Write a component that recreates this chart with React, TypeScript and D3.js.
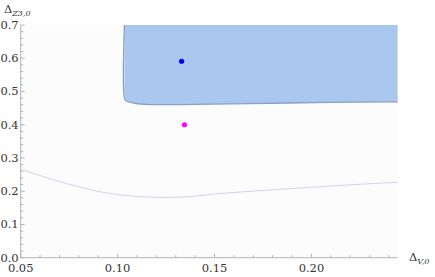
import * as React from 'react'
import * as d3 from 'd3'

// boundary of the shaded (allowed) region
const regionX = [0.1035, 0.1035, 0.1043, 0.1089, 0.1166, 0.1321, 0.1682, 0.2094, 0.2445]
const regionY = [0.7, 0.48, 0.472, 0.4646, 0.4607, 0.4607, 0.4637, 0.467, 0.469]

// thin bound curve
const curveX = [0.05, 0.065, 0.082, 0.096, 0.108, 0.1235, 0.1355, 0.151, 0.177, 0.2025, 0.2285, 0.2445]
const curveY = [0.266, 0.238, 0.21, 0.193, 0.185, 0.181, 0.183, 0.192, 0.203, 0.213, 0.222, 0.227]

const points = [
  { x: 0.133, y: 0.591, color: '#0000ff' },
  { x: 0.1345, y: 0.4, color: '#ff00ff' },
]

const xMajor = [0.05, 0.1, 0.15, 0.2]
const yMajor = [0, 0.1, 0.2, 0.3, 0.4, 0.5, 0.6, 0.7]

const W = 435
const H = 277
const left = 20.7
const right = 397.7
const top = 25
const bottom = 257.7

export default function App() {
  const x = d3.scaleLinear().domain([0.05, 0.2445]).range([left, right])
  const y = d3.scaleLinear().domain([0, 0.7]).range([bottom, top])

  const xMinor = d3.range(5, 25).map((d) => d / 100)
  const yMinor = d3.range(0, 36).map((d) => d / 50)

  const bnd = regionX.map((v, i) => [v, regionY[i]] as [number, number])
  const fillPts: [number, number][] = [...bnd, [0.2445, 0.7]]
  const curvePts = curveX.map((v, i) => [v, curveY[i]] as [number, number])
  const line = () =>
    d3
      .line<[number, number]>()
      .x((d) => x(d[0]))
      .y((d) => y(d[1]))

  const axisColor = '#b3b3b3'
  const txt = { fontFamily: "'DejaVu Serif', 'Liberation Serif', serif", fill: '#333' }

  return (
    <svg width={W} height={H} style={{ position: 'absolute', left: 0, top: 0 }}>
      <rect x={0} y={0} width={W} height={H} fill="#fff" />
      <rect x={left} y={top} width={right - left} height={bottom - top} fill="#fcfcfc" />

      <path d={line()(fillPts) + 'Z'} fill="#aac7ef" stroke="none" />
      <path d={line().curve(d3.curveCatmullRom)(bnd) || ''} fill="none" stroke="#8aa1c7" strokeWidth={1.3} />
      <path d={line().curve(d3.curveMonotoneX)(curvePts) || ''} fill="none" stroke="#cdd7ea" strokeWidth={1} />

      {points.map((p, i) => (
        <circle key={i} cx={x(p.x)} cy={y(p.y)} r={2.6} fill={p.color} />
      ))}

      {/* axes */}
      <line x1={left} x2={left} y1={top} y2={bottom} stroke={axisColor} />
      <line x1={left} x2={right} y1={bottom} y2={bottom} stroke={axisColor} />

      {xMinor.map((d) => {
        const major = xMajor.some((m) => Math.abs(m - d) < 1e-9)
        return (
          <line key={'xm' + d} x1={x(d)} x2={x(d)} y1={bottom} y2={bottom - (major ? 4 : 2.5)} stroke={axisColor} />
        )
      })}
      {yMinor.map((d) => {
        const major = yMajor.some((m) => Math.abs(m - d) < 1e-9)
        return <line key={'ym' + d} x1={left} x2={left + (major ? 4 : 2.5)} y1={y(d)} y2={y(d)} stroke={axisColor} />
      })}

      {xMajor.map((d) => (
        <text key={'xl' + d} x={x(d)} y={bottom + 14} fontSize={11.5} textAnchor="middle" style={txt}>
          {d3.format('.2f')(d)}
        </text>
      ))}
      {yMajor.map((d) => (
        <text key={'yl' + d} x={left - 2} y={y(d) + 4} fontSize={11.5} textAnchor="end" style={txt}>
          {d3.format('.1f')(d)}
        </text>
      ))}

      <text x={4} y={13} fontSize={11.5} style={txt}>
        Δ
        <tspan fontSize={8} fontStyle="italic" dy={3}>
          Z3,0
        </tspan>
      </text>
      <text x={409} y={261} fontSize={11.5} style={txt}>
        Δ
        <tspan fontSize={8} fontStyle="italic" dy={3}>
          V,0
        </tspan>
      </text>
    </svg>
  )
}
